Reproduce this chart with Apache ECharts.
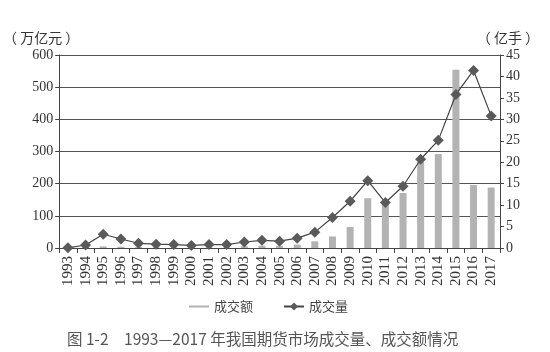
<!DOCTYPE html>
<html>
<head>
<meta charset="utf-8">
<script src="https://cdn.jsdelivr.net/npm/echarts@6/dist/echarts.min.js"></script>
<style>
  html, body { margin: 0; padding: 0; background: #fff; }
  #main { width: 550px; height: 352px; }
</style>
</head>
<body>
<div id="main"></div>
<script>
var years = ['1993', '1994', '1995', '1996', '1997', '1998', '1999', '2000', '2001', '2002',
    '2003', '2004', '2005', '2006', '2007', '2008', '2009', '2010', '2011', '2012',
    '2013', '2014', '2015', '2016', '2017'];
// 成交额（万亿元）
var turnover = [0.3, 3.2, 5.0, 4.2, 3.1, 1.8, 1.1, 0.8, 1.5, 2.0,
    5.4, 7.3, 6.7, 10.5, 20.9, 35.9, 65.5, 154.7, 137.5, 171.1,
    267.5, 292.0, 554.2, 195.6, 187.9];
// 成交量（亿手）
var volume = [0.05, 0.7, 3.2, 2.1, 1.1, 0.9, 0.8, 0.6, 0.8, 0.8,
    1.4, 1.8, 1.6, 2.3, 3.7, 7.1, 10.9, 15.7, 10.6, 14.4,
    20.7, 25.1, 35.8, 41.4, 30.8];
var leftTicks = [0, 100, 200, 300, 400, 500, 600];
var rightTicks = [0, 5, 10, 15, 20, 25, 30, 35, 40, 45];

var chart = echarts.init(document.getElementById('main'));

var axisFont = {
    fontFamily: 'Liberation Serif',
    fontSize: 14,
    color: '#333'
};

var option = {
    animation: false,
    title: {
        text: '图 1-2　1993—2017 年我国期货市场成交量、成交额情况',
        left: 62,
        top: 326,
        textStyle: {
            fontFamily: 'Noto Sans CJK SC',
            fontSize: 15.5,
            fontWeight: 'normal',
            color: '#555'
        }
    },
    legend: {
        top: 295,
        left: 184,
        itemGap: 30,
        itemWidth: 20,
        itemHeight: 10,
        textStyle: {
            fontFamily: 'Noto Sans CJK SC',
            fontSize: 13,
            color: '#444'
        },
        data: [
            { name: '成交额', icon: 'path://M0,4L20,4L20,6L0,6Z' },
            { name: '成交量' }
        ]
    },
    grid: {
        left: 57,
        right: 50,
        top: 55,
        bottom: 104
    },
    xAxis: {
        type: 'category',
        data: years,
        boundaryGap: true,
        axisLine: { lineStyle: { color: '#444', width: 1 } },
        axisTick: { show: true, alignWithLabel: false, length: 5, lineStyle: { color: '#444' } },
        axisLabel: Object.assign({}, axisFont, { rotate: 90, interval: 0, margin: 8, fontSize: 15 })
    },
    yAxis: [
        {
            type: 'value',
            min: 0,
            max: 600,
            interval: 100,
            name: '（ 万亿元 ）',
            nameGap: 10,
            nameTextStyle: {
                fontFamily: 'Noto Sans CJK SC',
                fontSize: 14,
                color: '#333',
                align: 'center',
                padding: [0, 0, 0, -36]
            },
            axisLine: { show: true, lineStyle: { color: '#444' } },
            axisTick: { show: true, length: 4, lineStyle: { color: '#444' } },
            axisLabel: Object.assign({
                margin: 6,
                formatter: function (v) { return leftTicks.indexOf(v) >= 0 ? String(v) : ''; }
            }, axisFont),
            splitLine: { show: true, lineStyle: { color: '#555', width: 1 } }
        },
        {
            type: 'value',
            min: 0,
            max: 45,
            interval: 5,
            name: '（ 亿手 ）',
            nameGap: 10,
            nameTextStyle: {
                fontFamily: 'Noto Sans CJK SC',
                fontSize: 14,
                color: '#333',
                align: 'center',
                padding: [0, 0, 0, 16]
            },
            axisLine: { show: true, lineStyle: { color: '#444' } },
            axisTick: { show: true, length: 4, lineStyle: { color: '#444' } },
            axisLabel: Object.assign({
                margin: 6,
                formatter: function (v) { return rightTicks.indexOf(v) >= 0 ? String(v) : ''; }
            }, axisFont),
            splitLine: { show: false }
        }
    ],
    series: [
        {
            name: '成交额',
            type: 'bar',
            yAxisIndex: 0,
            data: turnover,
            barWidth: 7,
            itemStyle: { color: '#b3b3b3' }
        },
        {
            name: '成交量',
            type: 'line',
            yAxisIndex: 1,
            data: volume,
            symbol: 'diamond',
            symbolSize: 11,
            lineStyle: { color: '#444', width: 1.2 },
            itemStyle: { color: '#5a5a5a' }
        }
    ]
};

chart.setOption(option);
</script>
</body>
</html>
